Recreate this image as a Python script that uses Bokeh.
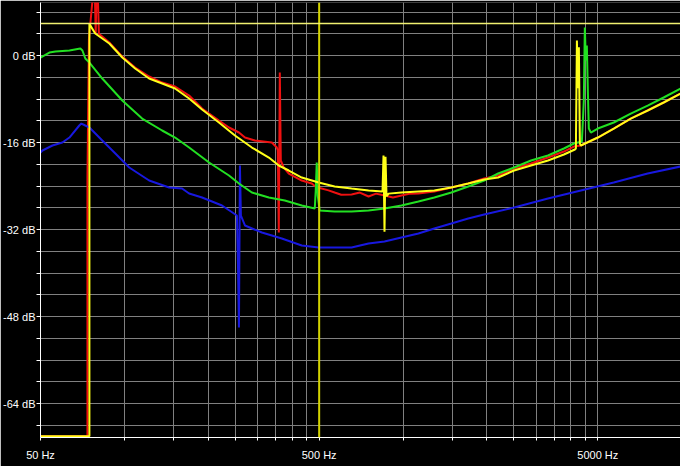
from bokeh.plotting import figure
from bokeh.models import FixedTicker, Span, Range1d
from bokeh.embed import file_html
from bokeh.resources import INLINE

# ---- data (frequency in Hz, level in dB) ----
yellow_hz = [50, 74.9, 74.9, 75.5, 78.6, 88.3, 98.3, 109.3, 122.7, 136.6, 152.0, 170.7, 190.0, 218.4, 249.3,
             286.8, 329.9, 358.2, 389.0, 433.0, 498.0, 568.3, 653.6, 752.0, 843.9, 850.9, 857.9, 865.1, 872.2,
             886.8, 986.8, 1135.5, 1294.9, 1490.4, 1713.9, 1955, 2194, 2503, 2879, 3312, 3778, 4137, 4171,
             4206, 4240, 4275, 4310, 4346, 5000, 5703, 6563, 7548, 8614, 9907]
yellow_db = [-70, -70, 5.9, 5.5, 4.05, 2.21, -0.37, -2.39, -4.23, -5.15, -6.07, -7.91, -9.93, -12.32, -14.71,
             -16.92, -18.76, -20.23, -21.15, -22.44, -23.36, -24.09, -24.46, -24.83, -25.0, -18.4, -32.4, -18.6,
             -25.9, -25.4, -25.2, -25.0, -24.83, -24.28, -23.54, -22.8, -22.44, -21.15, -20.23, -19.31, -18.21,
             -17.29, -17.1, 2.76, -6.0, 1.5, -16.2, -16.55, -15.08, -13.43, -11.59, -10.11, -8.64, -6.99]

green_hz = [50, 53.8, 56.6, 63.5, 69.5, 70.7, 72.4, 74.9, 83.3, 98.3, 115.8, 136.6, 152.0, 170.7, 201.3,
            237.3, 257.7, 286.8, 329.9, 376.4, 433.0, 482.1, 486.1, 490.1, 494.1, 502.1, 568.3, 653.6, 752.0,
            857.9, 986.8, 1135.5, 1294.9, 1490.4, 1713.9, 1955, 2194, 2503, 2879, 3312, 3778, 4103, 4382,
            4454, 4491, 4528, 4566, 4604, 4642, 4720, 5000, 5703, 6563, 7548, 8614, 9907]
green_db = [-0.37, 0.55, 0.74, 0.92, 1.29, 0.92, -0.55, -1.29, -4.23, -8.28, -11.59, -13.79, -15.08, -16.92,
            -19.68, -22.07, -23.54, -25.2, -26.11, -26.67, -27.59, -28.14, -24.8, -19.68, -25.75, -28.51,
            -28.69, -28.69, -28.51, -28.14, -27.59, -26.85, -26.11, -25.2, -24.09, -22.99, -21.7, -20.6,
            -19.31, -18.39, -17.1, -16.18, -15.82, -8.28, 5.15, -0.92, 1.84, -6.44, -13.43, -14.16, -13.43,
            -12.32, -10.67, -9.2, -7.72, -6.07]

blue_hz = [50, 50.83, 55.2, 59.9, 63.5, 68.9, 70.1, 72.4, 74.9, 83.3, 92.8, 104.1, 122.7, 144.7, 161.1,
           170.7, 190.0, 224.0, 253.4, 255.5, 257.7, 259.8, 261.9, 270.8, 311.4, 367.2, 433.0, 498.0, 568.3,
           653.6, 752.0, 857.9, 986.8, 1135.5, 1294.9, 1490.4, 1713.9, 1955, 2503, 3312, 4346, 5703, 7548, 9907]
blue_db = [-17.84, -17.47, -16.55, -16.0, -15.08, -12.87, -12.51, -12.87, -13.24, -15.63, -18.02, -20.6,
           -22.99, -24.28, -24.46, -25.38, -26.11, -27.59, -29.43, -37.7, -50.02, -20.23, -29.43, -31.26,
           -32.55, -33.66, -34.94, -35.31, -35.31, -35.31, -34.58, -34.21, -33.47, -32.74, -31.82, -30.9,
           -29.98, -29.24, -27.95, -26.3, -24.83, -23.36, -21.7, -20.41]

red_hz = [50, 73.7, 73.7, 74.6, 77.4, 78.3, 78.9, 79.4, 80.2, 81.0, 83.3, 88.3, 98.3, 109.3, 122.7, 136.6,
          152.0, 170.7, 190.0, 218.4, 237.3, 257.7, 270.8, 293.9, 338.2, 352.4, 355.3, 358.2, 361.2, 364.2,
          373.3, 389.0, 433.0, 470.3, 490.1, 510.3, 540, 568.3, 600, 653.6, 700, 752.0, 800, 857.9, 920,
          986.8, 1060, 1135.5, 1294.9, 1490.4, 1713.9, 1955, 2194, 2503, 2879, 3312, 3778, 4103, 4346, 5000,
          5703, 6563, 7548, 8614, 9907]
red_db = [-70, -70, -22.4, 3.0, 12, 12, 4.0, 12, 12, 4.0, 3.49, 2.4, -0.2, -2.2, -3.86, -4.97, -5.7, -7.36,
          -9.75, -11.95, -13.24, -14.16, -15.08, -15.63, -16.0, -16.92, -17.47, -32.55, -3.13, -19.31, -20.6,
          -21.7, -22.99, -23.54, -24.28, -24.46, -24.8, -25.2, -25.6, -25.56, -25.2, -25.93, -25.4, -25.75,
          -26.1, -25.75, -25.4, -25.38, -25.01, -24.28, -23.54, -22.62, -22.07, -20.78, -19.86, -18.76,
          -17.66, -16.74, -16.55, -15.08, -13.43, -11.59, -10.11, -8.64, -6.99]

x_ticks = [50, 100, 150, 200, 250, 300, 350, 400, 450, 500,
           1000, 1500, 2000, 2500, 3000, 3500, 4000, 4500, 5000]
x_labels = {50: "50 Hz", 500: "500 Hz", 5000: "5000 Hz"}
y_ticks = [-68, -64, -60, -56, -52, -48, -44, -40, -36, -32, -28, -24, -20, -16, -12, -8, -4, 0, 4, 8]
y_labels = {0: "0 dB", -16: "-16 dB", -32: "-32 dB", -48: "-48 dB", -64: "-64 dB"}
cursor_hz = 500
cursor_db = 5.9

FONT = "Liberation Sans"

p = figure(width=680, height=466, x_axis_type="log", output_backend="svg", toolbar_location=None,
           x_range=Range1d(50, 9900), y_range=Range1d(-70.25, 9.75),
           min_border_left=38, min_border_right=0, min_border_top=2, min_border_bottom=29)
p.background_fill_color = "black"
p.border_fill_color = "black"
p.outline_line_color = None

p.line(red_hz, red_db, line_color="#f01010", line_width=2)
p.line(blue_hz, blue_db, line_color="#1818e0", line_width=2)
p.line(green_hz, green_db, line_color="#22e022", line_width=2)
p.line(yellow_hz, yellow_db, line_color="#ffff18", line_width=2)

p.add_layout(Span(location=cursor_hz, dimension="height", line_color="#d4d400", line_width=2))
p.add_layout(Span(location=cursor_db, dimension="width", line_color="#f0f070", line_width=1.5))

xt = FixedTicker(ticks=x_ticks)
p.xaxis.ticker = xt
p.xgrid.ticker = xt
p.xaxis.major_label_overrides = {t: x_labels.get(t, "") for t in x_ticks}
yt = FixedTicker(ticks=y_ticks)
p.yaxis.ticker = yt
p.ygrid.ticker = yt
p.yaxis.major_label_overrides = {t: y_labels.get(t, "") for t in y_ticks}

for ax in (p.xaxis[0], p.yaxis[0]):
    ax.axis_line_color = "white"
    ax.axis_line_width = 1
    ax.major_tick_line_color = "white"
    ax.major_tick_in = 0
    ax.minor_tick_line_color = None
    ax.major_label_text_color = "white"
    ax.major_label_text_font = FONT
    ax.major_label_text_font_size = "11px"
p.xaxis.major_tick_out = 3
p.xaxis.major_label_standoff = 8
p.yaxis.major_tick_out = 4
p.yaxis.major_label_standoff = 1

for g in (p.xgrid[0], p.ygrid[0]):
    g.grid_line_color = "#808080"
    g.grid_line_width = 1

open("out.html", "w").write(file_html(p, INLINE))
